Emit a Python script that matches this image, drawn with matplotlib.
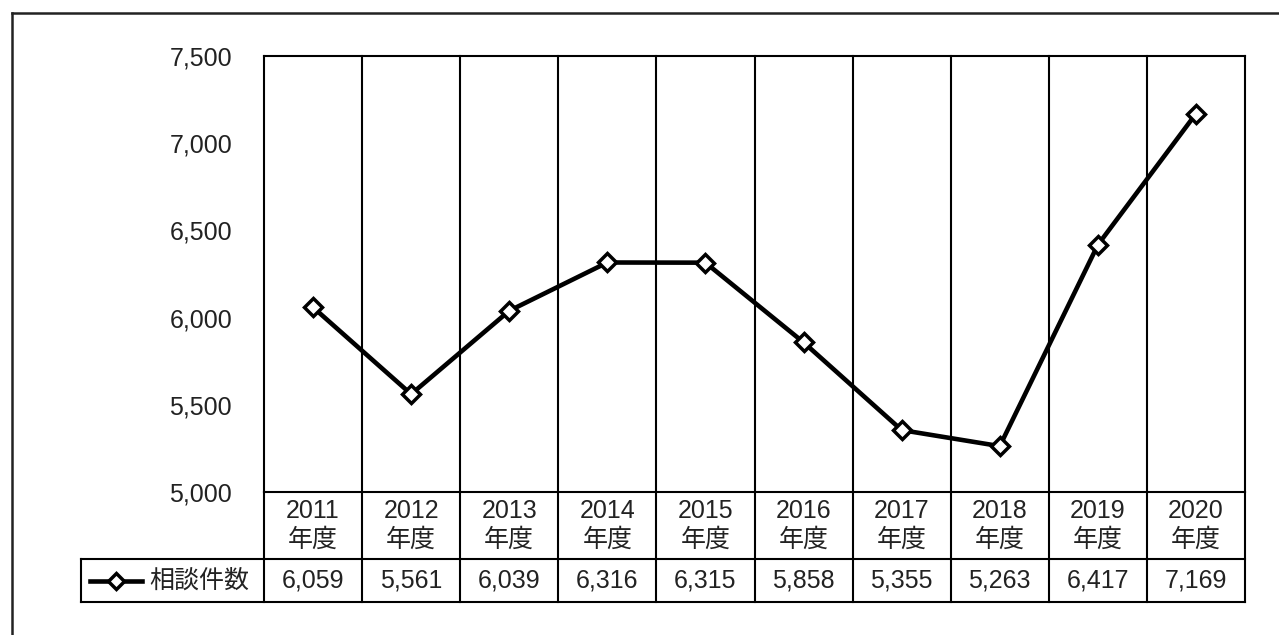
import matplotlib.pyplot as plt
import numpy as np

plt.rcParams['font.family'] = ['Liberation Sans', 'Noto Sans CJK JP']

years = ['2011', '2012', '2013', '2014', '2015', '2016', '2017', '2018', '2019', '2020']
counts = [6059, 5561, 6039, 6316, 6315, 5858, 5355, 5263, 6417, 7169]
series_name = '相談件数'
yticks = [5000, 5500, 6000, 6500, 7000, 7500]

W, H = 1279, 635
fig = plt.figure(figsize=(W / 100, H / 100), dpi=100)

# outer frame (only left and top visible)
fig.add_artist(plt.Line2D([12 / W, 12 / W], [0, 1 - 13 / H], color='#222222', lw=1.8))
fig.add_artist(plt.Line2D([12 / W, 1], [1 - 13 / H, 1 - 13 / H], color='#222222', lw=1.8))

left, right, top, bottom = 264, 1245, 56, 492
ax = fig.add_axes([left / W, 1 - bottom / H, (right - left) / W, (bottom - top) / H])

x = np.arange(len(years))
ax.plot(x, counts, color='black', lw=3.3, marker='D', markersize=9,
        markerfacecolor='white', markeredgecolor='black', markeredgewidth=2.5, zorder=5)

ax.set_xlim(-0.5, len(years) - 0.5)
ax.set_ylim(5000, 7500)
ax.set_yticks(yticks)
ax.set_yticklabels([f'{v:,}' for v in yticks], fontsize=18, color='#222222')
ax.tick_params(axis='y', length=0, pad=23)
ax.set_xticks([])
for s in ax.spines.values():
    s.set_linewidth(1.5)
    s.set_color('black')

# table geometry in axes coords
ph = bottom - top
row1 = -(559 - bottom) / ph
row2 = -(602 - bottom) / ph
leg_left = -0.5 + (81 - left) / (right - left) * len(years)
tr = ax.get_xaxis_transform()

# vertical separators through plot and table
for b in np.arange(0.5, len(years) - 0.5, 1.0):
    ax.plot([b, b], [row2, 1], color='black', lw=1.5, transform=tr, clip_on=False)
ax.plot([-0.5, -0.5], [row2, 0], color='black', lw=1.5, transform=tr, clip_on=False)
ax.plot([len(years) - 0.5] * 2, [row2, 0], color='black', lw=1.5, transform=tr, clip_on=False)
ax.plot([leg_left, leg_left], [row2, row1], color='black', lw=1.5, transform=tr, clip_on=False)
ax.plot([leg_left, len(years) - 0.5], [row1, row1], color='black', lw=1.5, transform=tr, clip_on=False)
ax.plot([leg_left, len(years) - 0.5], [row2, row2], color='black', lw=1.5, transform=tr, clip_on=False)

# year labels and values
for i, (yr, v) in enumerate(zip(years, counts)):
    ax.text(i, row1 / 2, f'{yr}\n年度', transform=tr, ha='center', va='center',
            fontsize=18, color='#222222', linespacing=1.25)
    ax.text(i, (row1 + row2) / 2, f'{v:,}', transform=tr, ha='center', va='center',
            fontsize=18, color='#222222')

# legend key in table
def px2ax(px):
    return (px - left) / (right - left)

ymid = (row1 + row2) / 2
ax.plot([px2ax(90), px2ax(142)], [ymid, ymid], color='black', lw=3.3,
        transform=ax.transAxes, clip_on=False)
ax.plot([px2ax(116)], [ymid], marker='D', markersize=8, markerfacecolor='white',
        markeredgecolor='black', markeredgewidth=2.5, transform=ax.transAxes, clip_on=False)
ax.text(px2ax(149), ymid, series_name, transform=ax.transAxes, ha='left', va='center',
        fontsize=18, color='#222222')

fig.savefig('out.png', dpi=100)
